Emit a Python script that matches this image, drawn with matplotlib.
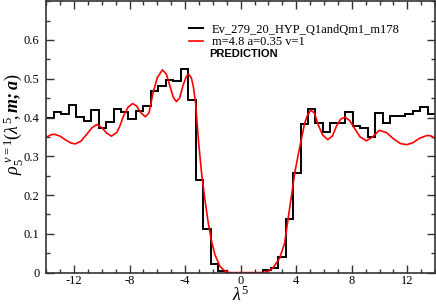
import numpy as np
import matplotlib
matplotlib.use("Agg")
import matplotlib.pyplot as plt
from matplotlib.ticker import MultipleLocator

# ---- data ----
bin_edges = np.linspace(-14, 14, 53)
hist_values = [0.399, 0.414, 0.409, 0.433, 0.401, 0.391, 0.419, 0.372, 0.388, 0.422,
               0.415, 0.396, 0.418, 0.429, 0.469, 0.481, 0.496, 0.493, 0.526, 0.444,
               0.239, 0.113, 0.022, 0.005, 0.0, 0.0, 0.0, 0.0, 0.0, 0.006,
               0.011, 0.039, 0.139, 0.256, 0.384, 0.421, 0.385, 0.363, 0.386, 0.386,
               0.414, 0.378, 0.373, 0.350, 0.412, 0.386, 0.403, 0.405, 0.410, 0.416,
               0.427, 0.408]

pred_x = [-14.0, -13.7, -13.4, -13.0, -12.6, -12.2, -11.9, -11.5, -11.1, -10.7,
          -10.35, -10.0, -9.65, -9.3, -8.9, -8.7, -8.45, -8.1, -7.78, -7.5,
          -7.2, -6.87, -6.6, -6.3, -6.0, -5.63, -5.35, -5.1, -4.85, -4.63,
          -4.4, -4.15, -3.9, -3.74, -3.55, -3.4, -3.24, -3.04, -2.81, -2.57,
          -2.33, -2.09, -1.85, -1.49, -1.13, -0.8, -0.4, 0.0, 0.5, 1.0,
          1.6, 2.0, 2.32, 2.8, 3.16, 3.52, 3.73, 3.88, 4.21, 4.6,
          4.8, 5.05, 5.3, 5.6, 5.9, 6.27, 6.6, 6.9, 7.2, 7.52,
          7.85, 8.2, 8.6, 9.05, 9.5, 9.98, 10.5, 11.0, 11.5, 11.95,
          12.4, 12.9, 13.45, 13.75, 14.0]
pred_y = [0.349, 0.355, 0.357, 0.352, 0.342, 0.334, 0.332, 0.339, 0.356, 0.374,
          0.382, 0.374, 0.360, 0.352, 0.362, 0.378, 0.403, 0.427, 0.436, 0.430,
          0.413, 0.402, 0.412, 0.465, 0.503, 0.523, 0.512, 0.482, 0.452, 0.441,
          0.450, 0.483, 0.507, 0.512, 0.502, 0.478, 0.436, 0.340, 0.255, 0.187,
          0.127, 0.080, 0.046, 0.016, 0.004, 0.0, 0.0, 0.0, 0.0, 0.0,
          0.0, 0.004, 0.012, 0.037, 0.075, 0.165, 0.215, 0.255, 0.316, 0.385,
          0.405, 0.419, 0.412, 0.380, 0.355, 0.343, 0.352, 0.378, 0.396, 0.401,
          0.392, 0.372, 0.350, 0.340, 0.350, 0.367, 0.361, 0.345, 0.333, 0.330,
          0.335, 0.347, 0.354, 0.352, 0.345]

xticks = [-12, -8, -4, 0, 4, 8, 12]
yticks = [0, 0.1, 0.2, 0.3, 0.4, 0.5, 0.6]
ytick_labels = ["0", "0.1", "0.2", "0.3", "0.4", "0.5", "0.6"]
xtick_labels = ["-12", "-8", "-4", "0", "4", "8", "12"]

series1_label = "Ev_279_20_HYP_Q1andQm1_m178"
series2_label = "m=4.8 a=0.35 v=1"
extra_label = "PREDICTION"

# ---- styling ----
plt.rcParams['mathtext.fontset'] = 'custom'
plt.rcParams['mathtext.rm'] = 'Liberation Serif'
plt.rcParams['mathtext.it'] = 'Liberation Serif:italic'
plt.rcParams['mathtext.bf'] = 'Liberation Serif:bold:italic'

fig = plt.figure(figsize=(4.36, 3.07), dpi=100)
ax = fig.add_axes([0.106, 0.112, 0.892, 0.884])

ax.stairs(hist_values, bin_edges, baseline=None, color='black', linewidth=1.4,
          label=series1_label)
ax.plot(pred_x, pred_y, color='red', linewidth=1.2, label=series2_label)

ax.set_xlim(-14, 14)
ax.set_ylim(0, 0.7)
ax.set_xticks(xticks)
ax.set_xticklabels(xtick_labels)
ax.set_yticks(yticks)
ax.set_yticklabels(ytick_labels)
ax.xaxis.set_minor_locator(MultipleLocator(1))
ax.yaxis.set_minor_locator(MultipleLocator(0.05))
ax.tick_params(which='both', direction='in', top=True, right=True,
               color='#333333', width=1)
ax.tick_params(which='major', length=6, labelsize=9)
ax.tick_params(axis='x', which='major', pad=2)
ax.tick_params(axis='y', which='major', pad=5)
ax.tick_params(which='minor', length=3)
for lab in ax.get_xticklabels() + ax.get_yticklabels():
    lab.set_fontfamily('Liberation Serif')
for sp in ax.spines.values():
    sp.set_color('#333333')
    sp.set_linewidth(1.2)

ax.set_xlabel(r'$\lambda^{5}$', fontsize=13, labelpad=-1)
ax.set_ylabel(r'$\rho_{5}^{\ v=1}(\lambda^{5}\!,\mathbf{m;a})$', fontsize=13)
ax.yaxis.set_label_coords(-0.055, 0.545)

leg = ax.legend(loc='upper left', bbox_to_anchor=(0.361, 0.927), frameon=False,
                prop={'family': 'Liberation Serif', 'size': 9},
                handlelength=1.15, handletextpad=0.65, labelspacing=0.05,
                borderpad=0.2, borderaxespad=0.0)
ax.text(0.419, 0.806, extra_label, transform=ax.transAxes, fontsize=8,
        fontweight='bold', family='Liberation Sans', va='center', ha='left')

fig.savefig('out.png', dpi=100)
